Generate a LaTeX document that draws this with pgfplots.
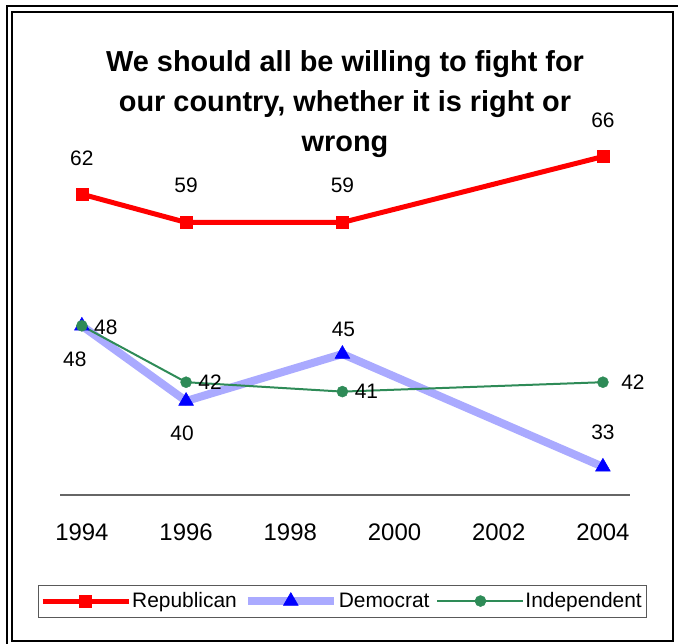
\documentclass[border=0pt]{standalone}
\usepackage{fontspec}
\setmainfont{Liberation Sans}
\usepackage{pgfplots}
\pgfplotsset{compat=1.18}
\definecolor{repred}{RGB}{255,0,0}
\definecolor{demline}{RGB}{170,170,255}
\definecolor{demmark}{RGB}{0,0,255}
\definecolor{indgreen}{RGB}{46,139,87}
\begin{document}
\begin{tikzpicture}[x=1bp,y=1bp]
\useasboundingbox (0,0) rectangle (678,-644);
\draw[line width=1.5bp] (7,-6) rectangle (720,-720);
\draw[line width=2.5bp] (12,-12) rectangle (673,-641);
\node[font=\bfseries\fontsize{29}{40}\selectfont, align=center] at (345,-104)
  {We should all be willing to fight for\\our country, whether it is right or\\wrong};
\begin{axis}[
  at={(60bp,-495bp)}, anchor=south west,
  scale only axis, width=570bp, height=376bp,
  xmin=1993.58, xmax=2004.52, ymin=30, ymax=70,
  axis x line=bottom, axis y line=none,
  axis line style={-, draw=gray!80!black, line width=1.2bp},
  xtick={1994,1996,...,2004},
  major tick length=0pt,
  xticklabel style={font=\fontsize{24}{24}\selectfont, yshift=-25bp},
  /pgf/number format/assume math mode=true,
  /pgf/number format/1000 sep={},
  clip=false,
  legend columns=3,
  legend style={at={(0.4947,-0.282)}, anchor=center, draw=gray!70!black,
    font=\fontsize{21}{21}\selectfont, inner ysep=6bp, inner xsep=2bp,
    /tikz/every even column/.append style={column sep=5bp},
    /tikz/every odd column/.append style={column sep=-1bp}},
  legend image code/.code={\draw[mark repeat=2,mark phase=2,#1] plot coordinates {(0bp,0bp) (43bp,0bp) (86bp,0bp)};},
]
\addplot[color=repred, line width=5bp, mark=square*, mark size=6bp, mark options={solid, line width=0.5bp}]
  coordinates {(1994,62) (1996,59) (1999,59) (2004,66)};
\addlegendentry{Republican}
\addplot[color=demline, line width=8bp, mark=triangle*, mark size=8.5bp, mark options={draw=demmark, fill=demmark, line width=0.5bp}]
  coordinates {(1994,48) (1996,40) (1999,45) (2004,33)};
\addlegendentry{Democrat}
\addplot[color=indgreen, line width=2bp, mark=*, mark size=5.5bp, mark options={line width=0.5bp}]
  coordinates {(1994,48) (1996,42) (1999,41) (2004,42)};
\addlegendentry{Independent}
\begin{scope}[font=\fontsize{21}{21}\selectfont]
\node at ([yshift=36bp]axis cs:1994,62) {62};
\node at ([yshift=37bp]axis cs:1996,59) {59};
\node at ([yshift=37bp]axis cs:1999,59) {59};
\node at ([yshift=36bp]axis cs:2004,66) {66};
\node at ([xshift=-7bp,yshift=-33bp]axis cs:1994,48) {48};
\node at ([xshift=-4bp,yshift=-32bp]axis cs:1996,40) {40};
\node at ([xshift=1bp,yshift=25bp]axis cs:1999,45) {45};
\node at ([yshift=35bp]axis cs:2004,33) {33};
\node at ([xshift=24bp,yshift=-1bp]axis cs:1994,48) {48};
\node at ([xshift=24bp]axis cs:1996,42) {42};
\node at ([xshift=24bp]axis cs:1999,41) {41};
\node at ([xshift=30bp]axis cs:2004,42) {42};
\end{scope}
\end{axis}
\end{tikzpicture}
\end{document}
